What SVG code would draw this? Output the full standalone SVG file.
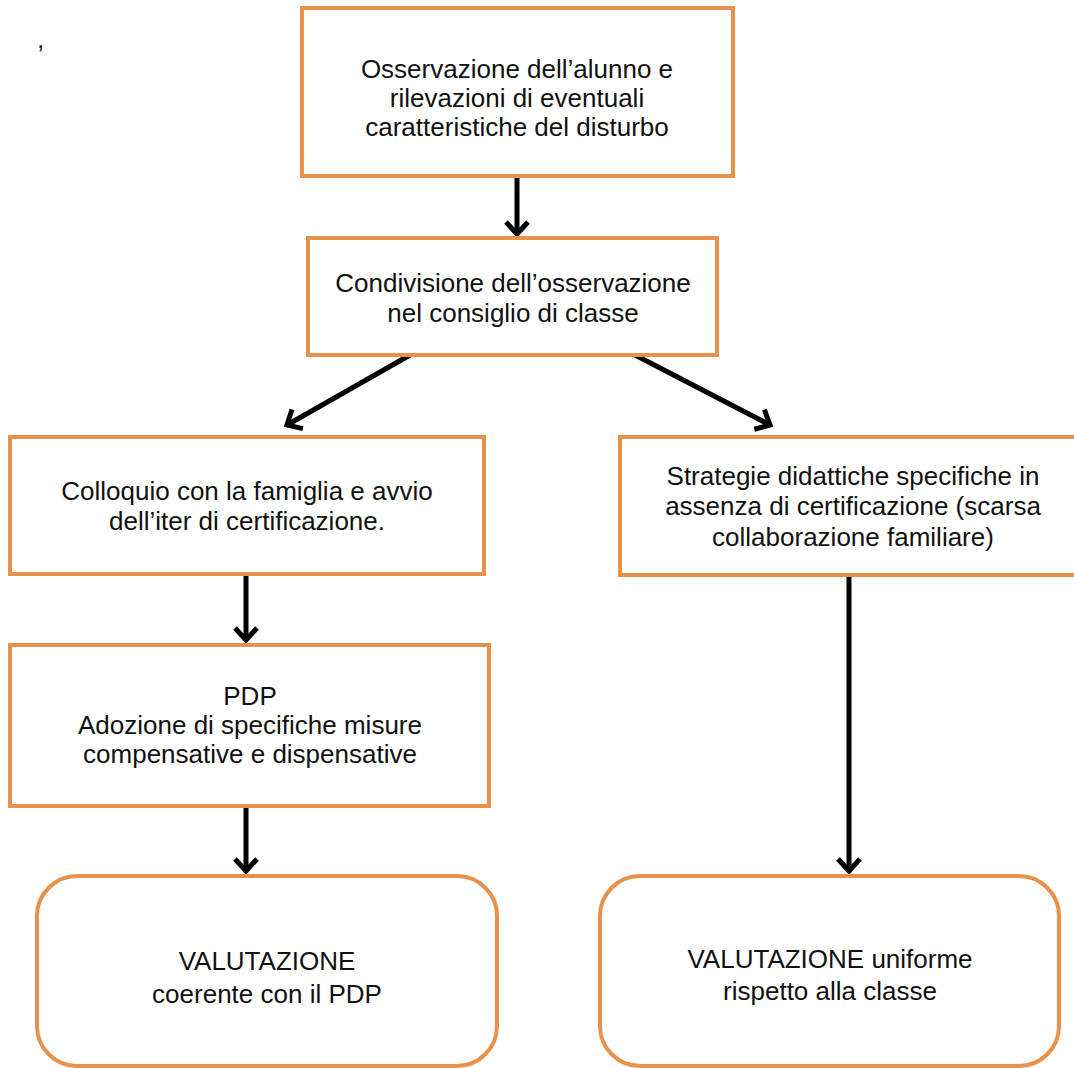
<svg xmlns="http://www.w3.org/2000/svg" width="1074" height="1068" viewBox="0 0 1074 1068">
<style>
.box{fill:#fff;stroke:#E8914B;stroke-width:4}
.t{font-family:"Liberation Sans",Arial,sans-serif;font-size:26px;fill:#111;text-anchor:middle}
.c{stroke:#000;stroke-width:5;fill:none}
</style>
<defs>
<marker id="ah" markerUnits="userSpaceOnUse" markerWidth="30" markerHeight="30" viewBox="-15 -15 30 30" refX="0" refY="0" orient="auto">
<path d="M-12,-11 L0,0 L-12,11" fill="none" stroke="#000" stroke-width="5"/>
</marker>
</defs>
<rect width="1074" height="1068" fill="#fff"/>
<text x="37" y="48" style="font-family:'Liberation Sans',Arial,sans-serif;font-size:26px;fill:#222">,</text>
<g id="connectors">
<line class="c" x1="517" y1="176" x2="517" y2="234" marker-end="url(#ah)"/>
<line class="c" x1="410" y1="355" x2="287" y2="425" marker-end="url(#ah)"/>
<line class="c" x1="635" y1="355" x2="770" y2="425" marker-end="url(#ah)"/>
<line class="c" x1="246" y1="574" x2="246" y2="640" marker-end="url(#ah)"/>
<line class="c" x1="246" y1="806" x2="246" y2="871" marker-end="url(#ah)"/>
<line class="c" x1="849" y1="575" x2="849" y2="871" marker-end="url(#ah)"/>
</g>
<g id="n1">
<rect class="box" x="302" y="8" width="431" height="168"/>
<text class="t" x="517" y="78">Osservazione dell’alunno e</text>
<text class="t" x="517" y="107">rilevazioni di eventuali</text>
<text class="t" x="517" y="136">caratteristiche del disturbo</text>
</g>
<g id="n2">
<rect class="box" x="308" y="238" width="409" height="117"/>
<text class="t" x="513" y="292">Condivisione dell’osservazione</text>
<text class="t" x="513" y="322">nel consiglio di classe</text>
</g>
<g id="n3">
<rect class="box" x="10" y="437" width="474" height="137"/>
<text class="t" x="247" y="500">Colloquio con la famiglia e avvio</text>
<text class="t" x="247" y="530">dell’iter di certificazione.</text>
</g>
<g id="n4">
<rect class="box" x="620" y="437" width="470" height="138"/>
<text class="t" x="853" y="485">Strategie didattiche specifiche in</text>
<text class="t" x="853" y="515">assenza di certificazione (scarsa</text>
<text class="t" x="853" y="546">collaborazione familiare)</text>
</g>
<g id="n5">
<rect class="box" x="10" y="645" width="479" height="161"/>
<text class="t" x="250" y="705">PDP</text>
<text class="t" x="250" y="734">Adozione di specifiche misure</text>
<text class="t" x="250" y="763">compensative e dispensative</text>
</g>
<g id="n6">
<rect class="box" x="37" y="876" width="460" height="190" rx="40" ry="40"/>
<text class="t" x="267" y="970">VALUTAZIONE</text>
<text class="t" x="267" y="1003">coerente con il PDP</text>
</g>
<g id="n7">
<rect class="box" x="600" y="876" width="459" height="190" rx="40" ry="40"/>
<text class="t" x="830" y="968">VALUTAZIONE uniforme</text>
<text class="t" x="830" y="1000">rispetto alla classe</text>
</g>
</svg>
